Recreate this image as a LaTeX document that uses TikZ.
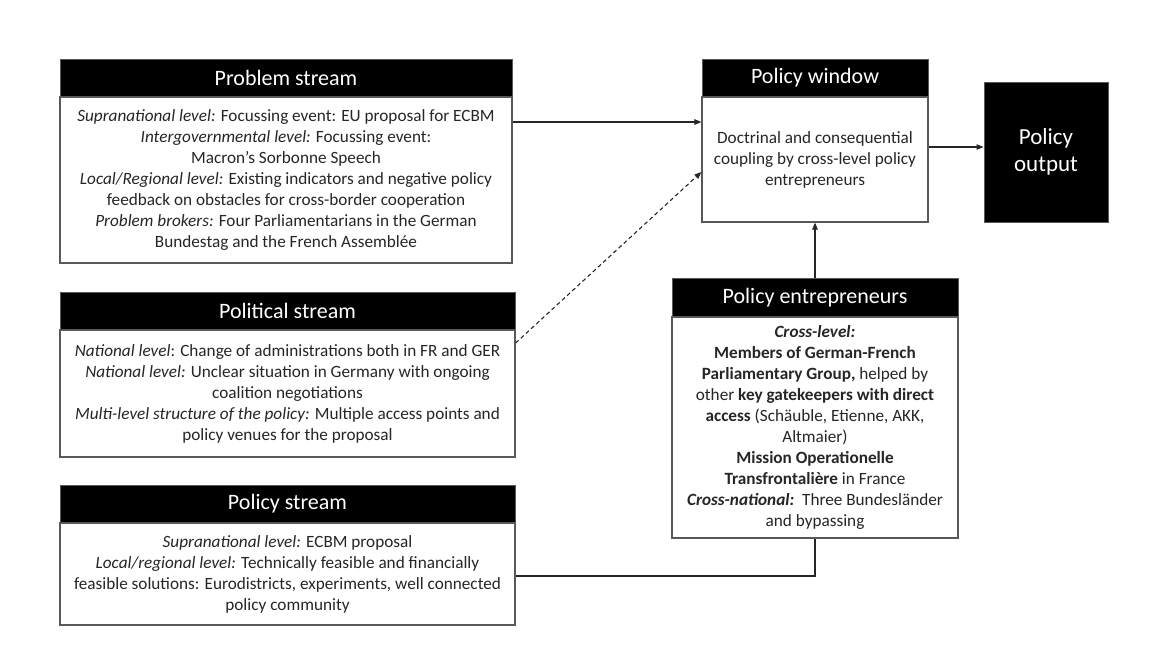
\documentclass[tikz,border=0pt]{standalone}
\usepackage{fontspec}
\setmainfont{Carlito}
\usetikzlibrary{arrows.meta}
\definecolor{txt}{HTML}{262626}
\definecolor{edge}{HTML}{595959}
\tikzset{
  head/.style={fill=black, draw=edge, line width=1pt, text=white, inner sep=0pt,
    font=\fontsize{22}{26}\selectfont},
  body/.style={fill=white, draw=edge, line width=1.2pt, text=txt, inner sep=0pt, align=center,
    font=\fontsize{17.2}{21}\selectfont},
  outbox/.style={fill=black, draw=edge, line width=1pt, text=white, inner sep=0pt, align=center,
    font=\fontsize{23}{27}\selectfont},
  conn/.style={draw=txt, line width=1.1pt},
  arr/.style={conn, -{Triangle[length=7pt,width=5.5pt]}}
}
\begin{document}
\begin{tikzpicture}[x=1pt,y=-1pt]
\useasboundingbox (0,0) rectangle (1149,657);
% Problem stream
\node[head, minimum width=452pt, minimum height=38pt] (probH) at (286,78) {Problem stream};
\node[body, minimum width=452pt, minimum height=166pt] (prob) at (286,180)
 {\textit{Supranational level:} Focussing event: EU proposal for ECBM\\
  \textit{Intergovernmental level:} Focussing event:\\
  Macron’s Sorbonne Speech\\
  \textit{Local/Regional level:} Existing indicators and negative policy\\
  feedback on obstacles for cross-border cooperation\\
  \textit{Problem brokers:} Four Parliamentarians in the German\\
  Bundestag and the French Assemblée};
% Political stream
\node[head, minimum width=455pt, minimum height=38pt] (polH) at (287.5,311) {Political stream};
\node[body, minimum width=455pt, minimum height=127pt] (pol) at (287.5,393.5)
 {\textit{National level}: Change of administrations both in FR and GER\\
  \textit{National level:} Unclear situation in Germany with ongoing\\
  coalition negotiations\\
  \textit{Multi-level structure of the policy:} Multiple access points and\\
  policy venues for the proposal};
% Policy stream
\node[head, minimum width=455pt, minimum height=38pt] (polsH) at (287.5,504) {Policy stream};
\node[body, minimum width=455pt, minimum height=102pt] (pols) at (287.5,574)
 {\textit{Supranational level:} ECBM proposal\\
  \textit{Local/regional level:} Technically feasible and financially\\
  feasible solutions: Eurodistricts, experiments, well connected\\
  policy community};
% Policy window
\node[head, minimum width=226pt, minimum height=38pt] (winH) at (815,78) {Policy window};
\node[body, minimum width=226pt, minimum height=125pt] (win) at (815,159.5)
 {Doctrinal and consequential\\
  coupling by cross-level policy\\
  entrepreneurs};
% Policy output
\node[outbox, minimum width=124pt, minimum height=140pt] (out) at (1046,152) {Policy\\output};
% Policy entrepreneurs
\node[head, minimum width=286pt, minimum height=39pt] (entH) at (815,297.5) {Policy entrepreneurs};
\node[body, minimum width=286pt, minimum height=221pt] (ent) at (815,427.5)
 {\textbf{\textit{Cross-level:}}\\
  \textbf{Members of German-French}\\
  \textbf{Parliamentary Group,} helped by\\
  other \textbf{key gatekeepers with direct}\\
  \textbf{access} (Schäuble, Etienne, AKK,\\
  Altmaier)\\
  \textbf{Mission Operationelle}\\
  \textbf{Transfrontalière} in France\\
  \textbf{\textit{Cross-national:}}\ \ Three Bundesländer\\
  and bypassing};
% connectors
\coordinate (y1) at (0,122);
\coordinate (y2) at (0,343);
\coordinate (y3) at (0,172);
\coordinate (y4) at (0,147);
\coordinate (y5) at (0,576);
\draw[arr] (prob.east |- y1) -- (win.west |- y1);
\draw[arr, dashed, dash pattern=on 4pt off 3pt] (pol.east |- y2) -- (win.west |- y3);
\draw[arr] (win.east |- y4) -- (out.west |- y4);
\draw[arr] (entH.north) -- (win.south);
\draw[conn] (pols.east |- y5) -- (ent.south |- y5) -- (ent.south);
\end{tikzpicture}
\end{document}
